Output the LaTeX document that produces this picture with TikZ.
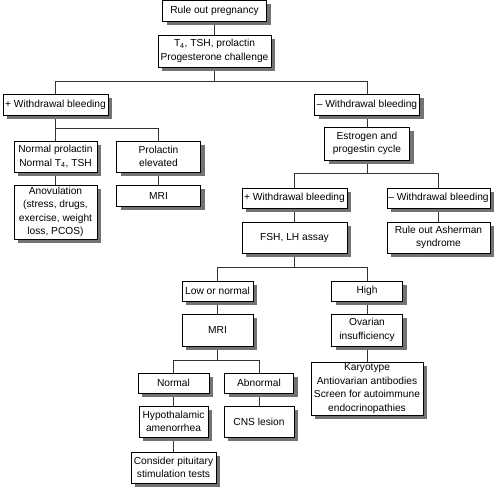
\documentclass[tikz,border=0pt]{standalone}
\usepackage{fontspec}
\setmainfont{Liberation Sans}
\pgfdeclarelayer{lines}
\pgfsetlayers{lines,main}
\begin{document}
\begin{tikzpicture}[x=1pt,y=-1pt,
  box/.style={draw, line width=0.7pt, fill=white, inner sep=0pt, align=center,
    font=\fontsize{10.2}{13.5}\selectfont},
  shadowline/.style={draw=black!55, line width=4pt, line join=miter, line cap=butt},
  link/.style={draw=black!80, line width=0.7pt}]
\newcommand{\bx}[6]{%
  \draw[shadowline] ({#2+#4/2+2},{#3-#5/2+4}) -- ({#2+#4/2+2},{#3+#5/2+2}) -- ({#2-#4/2+4},{#3+#5/2+2});
  \node[box, minimum width=#4pt, minimum height=#5pt] (#1) at (#2,#3) {#6};}
\useasboundingbox (0,0) rectangle (500,489);
% junctions
\coordinate (j1) at (214.5,81);
\coordinate (j2) at (55.5,128);
\coordinate (j3) at (367,173);
\coordinate (j4) at (294.5,267);
\coordinate (j5) at (217.5,360);
% nodes with shadows
\bx{n1}{214.5}{10.75}{104}{20.5}{Rule out pregnancy}
\bx{n2}{214.5}{51}{113}{32}{T\textsubscript{4}, TSH, prolactin\\Progesterone challenge}
\bx{n3}{55.5}{104.5}{105}{21}{+ Withdrawal bleeding}
\bx{n4}{367}{104.5}{105}{21}{– Withdrawal bleeding}
\bx{n5}{55.5}{156.5}{83}{31}{Normal prolactin\\Normal T\textsubscript{4}, TSH}
\bx{n6}{158.5}{156.5}{84}{31}{Prolactin\\elevated}
\bx{n7}{55.5}{212}{83}{54}{Anovulation\\(stress, drugs,\\exercise, weight\\loss, PCOS)}
\bx{n8}{158.5}{195.5}{84}{21}{MRI}
\bx{n9}{367}{143.5}{85}{33}{Estrogen and\\progestin cycle}
\bx{n10}{294.5}{198}{105}{20}{+ Withdrawal bleeding}
\bx{n11}{438.5}{198}{103}{20}{– Withdrawal bleeding}
\bx{n12}{294.5}{237.5}{105}{31}{FSH, LH assay}
\bx{n13}{438.5}{237.5}{103}{31}{Rule out Asherman\\syndrome}
\bx{n14}{217.5}{291}{71}{20}{Low or normal}
\bx{n15}{367}{291}{71}{20}{High}
\bx{n16}{217.5}{330}{71}{32}{MRI}
\bx{n17}{367}{330}{71}{32}{Ovarian\\insufficiency}
\bx{n18}{173.5}{383}{71}{20}{Normal}
\bx{n19}{259}{383}{69}{20}{Abnormal}
\bx{n20}{173.5}{421.5}{69}{31}{Hypothalamic\\amenorrhea}
\bx{n21}{259}{421.5}{70}{31}{CNS lesion}
\bx{n22}{173.5}{467.5}{85}{31}{Consider pituitary\\stimulation tests}
\bx{n23}{367}{388.5}{112}{53}{Karyotype\\Antiovarian antibodies\\Screen for autoimmune\\endocrinopathies}
% connectors
\begin{pgfonlayer}{lines}
\fill[white] (0,0) rectangle (500,489);
\draw[link] (n1) -- (n2);
\draw[link] (n2) -- (j1);
\draw[link] (j1) -| (n3);
\draw[link] (j1) -| (n4);
\draw[link] (n3) -- (j2);
\draw[link] (j2) -| (n5);
\draw[link] (j2) -| (n6);
\draw[link] (n5) -- (n7);
\draw[link] (n6) -- (n8);
\draw[link] (n4) -- (n9);
\draw[link] (n9) -- (j3);
\draw[link] (j3) -| (n10);
\draw[link] (j3) -| (n11);
\draw[link] (n10) -- (n12);
\draw[link] (n11) -- (n13);
\draw[link] (n12) -- (j4);
\draw[link] (j4) -| (n14);
\draw[link] (j4) -| (n15);
\draw[link] (n14) -- (n16);
\draw[link] (n15) -- (n17);
\draw[link] (n17) -- (n23);
\draw[link] (n16) -- (j5);
\draw[link] (j5) -| (n18);
\draw[link] (j5) -| (n19);
\draw[link] (n18) -- (n20);
\draw[link] (n20) -- (n22);
\draw[link] (n19) -- (n21);
\end{pgfonlayer}
\end{tikzpicture}
\end{document}
